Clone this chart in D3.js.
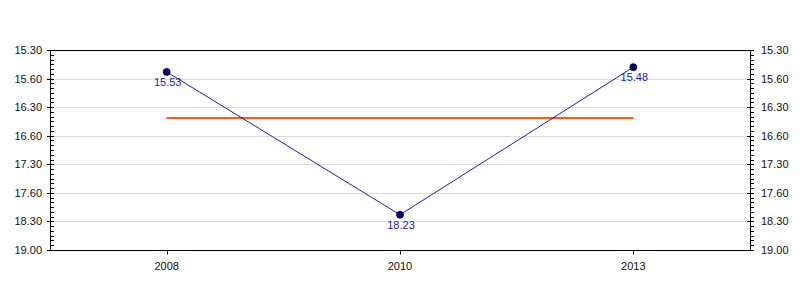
<!DOCTYPE html>
<html>
<head>
<meta charset="utf-8">
<script src="https://cdn.jsdelivr.net/npm/d3@7"></script>
<style>
  html, body { margin: 0; padding: 0; background: #fff; }
  svg { display: block; }
  text { font-family: "Liberation Sans", Arial, sans-serif; }
</style>
</head>
<body>
<svg id="chart" width="800" height="300"></svg>
<script>
// ---- data ----
const years = ["2008", "2010", "2013"];
const times = ["15.53", "18.23", "15.48"];           // mm.ss
const yTickLabels = ["15.30", "15.60", "16.30", "16.60", "17.30", "17.60", "18.30", "19.00"];
const yTickSeconds = [930, 960, 990, 1020, 1050, 1080, 1110, 1140];
const yDomain = [930, 1140];

(function () {
// ---- helpers ----
const toSec = s => { const [m, ss] = s.split("."); return (+m) * 60 + (+ss); };
const secs = times.map(toSec);
const avg = d3.mean(secs);

const svg = d3.select("#chart");
const pL = 50, pR = 750, pT = 50, pB = 250;

const x = d3.scalePoint().domain(years).range([pL, pR]).padding(0.5);
const y = d3.scaleLinear().domain(yDomain).range([pT, pB]);

// gridlines
svg.append("g").selectAll("line").data(yTickSeconds.slice(1, -1)).join("line")
  .attr("x1", pL).attr("x2", pR)
  .attr("y1", d => Math.round(y(d)) + 0.5).attr("y2", d => Math.round(y(d)) + 0.5)
  .attr("stroke", "#dcdcdc").attr("stroke-width", 1);

// minor ticks (every 5 s)
const minor = d3.range(yDomain[0], yDomain[1] + 1, 5).filter(v => !yTickSeconds.includes(v));

function yAxis(xPos, side) {
  const g = svg.append("g");
  g.append("line").attr("x1", xPos + 0.5).attr("x2", xPos + 0.5)
    .attr("y1", pT).attr("y2", pB + 1).attr("stroke", "#000");
  g.selectAll(".maj").data(yTickSeconds).join("line")
    .attr("x1", xPos - 3).attr("x2", xPos + 4)
    .attr("y1", d => Math.round(y(d)) + 0.5).attr("y2", d => Math.round(y(d)) + 0.5)
    .attr("stroke", "#000");
  g.selectAll(".min").data(minor).join("line")
    .attr("x1", xPos + 0.5).attr("x2", xPos + 4)
    .attr("y1", d => Math.round(y(d)) + 0.5).attr("y2", d => Math.round(y(d)) + 0.5)
    .attr("stroke", "#000");
  g.selectAll("text").data(yTickSeconds).join("text")
    .attr("x", side === "left" ? xPos - 8 : xPos + 11)
    .attr("y", d => y(d) + 4)
    .attr("text-anchor", side === "left" ? "end" : "start")
    .attr("font-size", 11).attr("fill", "#111")
    .text((d, i) => yTickLabels[i]);
}
yAxis(pL, "left");
yAxis(pR, "right");

// top border and x axis
svg.append("line").attr("x1", pL).attr("x2", pR + 1).attr("y1", pT + 0.5).attr("y2", pT + 0.5).attr("stroke", "#000");
const xa = svg.append("g").attr("transform", `translate(0,${pB + 0.5})`);
xa.append("line").attr("x1", pL).attr("x2", pR + 1).attr("stroke", "#000");
xa.selectAll(".t").data(years).join("line")
  .attr("x1", d => Math.round(x(d)) + 0.5).attr("x2", d => Math.round(x(d)) + 0.5)
  .attr("y1", 0).attr("y2", 4).attr("stroke", "#000");
xa.selectAll("text").data(years).join("text")
  .attr("x", d => x(d)).attr("y", 19)
  .attr("text-anchor", "middle").attr("font-size", 11).attr("fill", "#111")
  .text(d => d);

// average line
svg.append("line")
  .attr("x1", x(years[0])).attr("x2", x(years[years.length - 1]))
  .attr("y1", y(avg)).attr("y2", y(avg))
  .attr("stroke", "#ff5a10").attr("stroke-width", 2);

// series line
const line = d3.line().x((d, i) => x(years[i])).y(d => y(d));
svg.append("path").datum(secs).attr("d", line)
  .attr("fill", "none").attr("stroke", "#1c1cc8").attr("stroke-width", 1);

// points
svg.append("g").selectAll("circle").data(secs).join("circle")
  .attr("cx", (d, i) => x(years[i])).attr("cy", d => y(d)).attr("r", 3.5)
  .attr("fill", "#000080").attr("stroke", "#000").attr("stroke-width", 0.8);

// labels
svg.append("g").selectAll("text").data(times).join("text")
  .attr("x", (d, i) => x(years[i]) + 1).attr("y", (d, i) => y(secs[i]) + 14)
  .attr("text-anchor", "middle").attr("font-size", 11).attr("fill", "#1c1cb0")
  .text(d => d);
})();
</script>
</body>
</html>
